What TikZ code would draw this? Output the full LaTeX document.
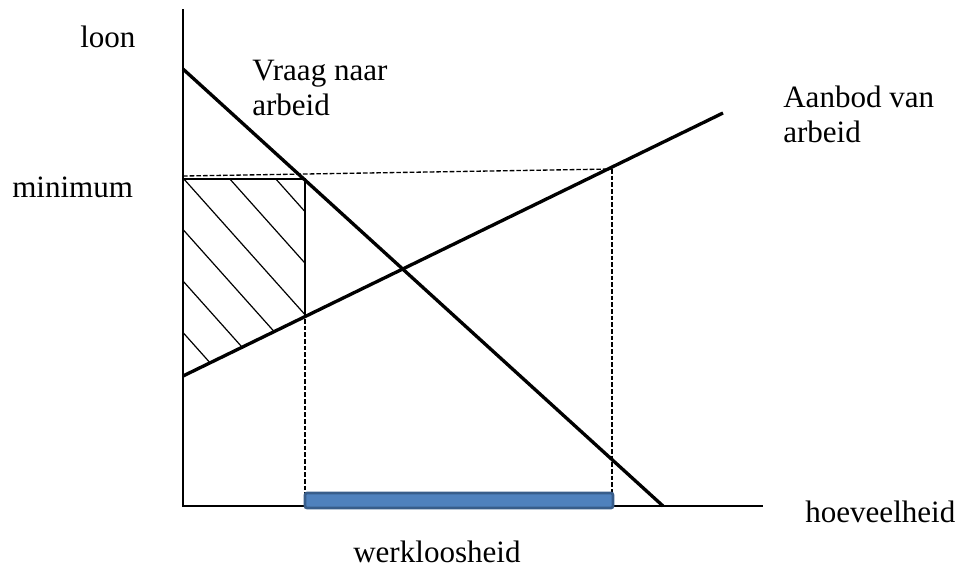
\documentclass[tikz,border=0pt]{standalone}
\usepackage{fontspec}
\setmainfont{Liberation Serif}
\begin{document}
\begin{tikzpicture}[x=0.75pt,y=-0.75pt,
  lab/.style={anchor=base west,inner sep=0pt,font=\fontsize{23.3}{28}\selectfont},
  axisline/.style={line width=1.2pt},
  curve/.style={line width=2.5pt},
  guide/.style={line width=1pt,dash pattern=on 3.5pt off 1.5pt},
  hatchline/.style={line width=0.9pt},
  edge/.style={line width=1.3pt},
  bar/.style={fill={rgb,255:red,79;green,129;blue,189},draw={rgb,255:red,56;green,93;blue,138},line width=2pt,rounded corners=1.5pt}]
\useasboundingbox (0,0) rectangle (962,572);
% key points
\coordinate (O) at (183,506);
\coordinate (Ytop) at (183,9);
\coordinate (Xend) at (763,506);
\coordinate (D1) at (183,69);
\coordinate (D2) at (663,506);
\coordinate (S1) at (183,376);
\coordinate (S2) at (723,113);
\coordinate (M0) at (183,179);
\coordinate (A) at (305,179);
\coordinate (B) at (305,316);
\coordinate (L0) at (183,176);
\coordinate (C) at (612,169);
% hatching
\begin{scope}
  \clip (M0) -- (A) -- (B) -- (S1) -- cycle;
  \foreach \k in {-2,...,3}{
    \draw[hatchline] (183,{178+51.5*\k}) -- (320,{178+51.5*\k+1.12*137});
  }
\end{scope}
\draw[edge] (M0) -- (A) -- (B);
% guides
\draw[guide] (L0) -- (C);
\draw[guide] (A) -- (A |- O);
\draw[guide] (C) -- (C |- O);
% axes
\draw[axisline] (Ytop) -- (O) -- (Xend);
% curves
\draw[curve] (D1) -- (D2);
\draw[curve] (S1) -- (S2);
% unemployment bar
\draw[bar] (305,493) rectangle (613,508);
% labels
\node[lab] (loon) at (80,47) {loon};
\node[lab] (minimum) at (12,197) {minimum};
\node[lab] (vraag1) at (252,80) {Vraag naar};
\node[lab] (vraag2) at (252,115) {arbeid};
\node[lab] (aanbod1) at (783,107) {Aanbod van};
\node[lab] (aanbod2) at (783,142) {arbeid};
\node[lab] (hoev) at (805,522) {hoeveelheid};
\node[lab] (werk) at (353,562) {werkloosheid};
\end{tikzpicture}
\end{document}
